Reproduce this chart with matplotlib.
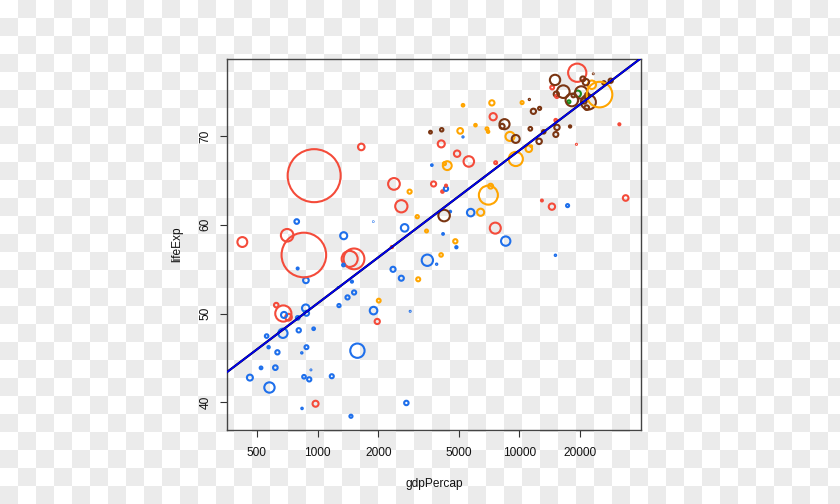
import numpy as np
import matplotlib
matplotlib.use("Agg")
import matplotlib.pyplot as plt

plt.rcParams['font.family'] = ['Liberation Sans', 'DejaVu Sans']

# Gapminder 1982
country = ["Afghanistan","Albania","Algeria","Angola","Argentina","Australia","Austria","Bahrain","Bangladesh","Belgium",
           "Benin","Bolivia","Bosnia and Herzegovina","Botswana","Brazil","Bulgaria","Burkina Faso","Burundi","Cambodia","Cameroon",
           "Canada","Central African Republic","Chad","Chile","China","Colombia","Comoros","Congo, Dem. Rep.","Congo, Rep.","Costa Rica",
           "Cote d'Ivoire","Croatia","Cuba","Czech Republic","Denmark","Djibouti","Dominican Republic","Ecuador","Egypt","El Salvador",
           "Equatorial Guinea","Eritrea","Ethiopia","Finland","France","Gabon","Gambia","Germany","Ghana","Greece",
           "Guatemala","Guinea","Guinea-Bissau","Haiti","Honduras","Hong Kong","Hungary","Iceland","India","Indonesia",
           "Iran","Iraq","Ireland","Israel","Italy","Jamaica","Japan","Jordan","Kenya","Korea, Dem. Rep.",
           "Korea, Rep.","Kuwait","Lebanon","Lesotho","Liberia","Libya","Madagascar","Malawi","Malaysia","Mali",
           "Mauritania","Mauritius","Mexico","Mongolia","Montenegro","Morocco","Mozambique","Myanmar","Namibia","Nepal",
           "Netherlands","New Zealand","Nicaragua","Niger","Nigeria","Norway","Oman","Pakistan","Panama","Paraguay",
           "Peru","Philippines","Poland","Portugal","Puerto Rico","Reunion","Romania","Rwanda","Sao Tome and Principe","Saudi Arabia",
           "Senegal","Serbia","Sierra Leone","Singapore","Slovak Republic","Slovenia","Somalia","South Africa","Spain","Sri Lanka",
           "Sudan","Swaziland","Sweden","Switzerland","Syria","Taiwan","Tanzania","Thailand","Togo","Trinidad and Tobago",
           "Tunisia","Turkey","Uganda","United Kingdom","United States","Uruguay","Venezuela","Vietnam","West Bank and Gaza","Yemen, Rep.",
           "Zambia","Zimbabwe"]

continent = ["Asia","Europe","Africa","Africa","Americas","Oceania","Europe","Asia","Asia","Europe",
             "Africa","Americas","Europe","Africa","Americas","Europe","Africa","Africa","Asia","Africa",
             "Americas","Africa","Africa","Americas","Asia","Americas","Africa","Africa","Africa","Americas",
             "Africa","Europe","Americas","Europe","Europe","Africa","Americas","Americas","Africa","Americas",
             "Africa","Africa","Africa","Europe","Europe","Africa","Africa","Europe","Africa","Europe",
             "Americas","Africa","Africa","Americas","Americas","Asia","Europe","Europe","Asia","Asia",
             "Asia","Asia","Europe","Asia","Europe","Americas","Asia","Asia","Africa","Asia",
             "Asia","Asia","Asia","Africa","Africa","Africa","Africa","Africa","Asia","Africa",
             "Africa","Africa","Americas","Asia","Europe","Africa","Africa","Asia","Africa","Asia",
             "Europe","Oceania","Americas","Africa","Africa","Europe","Asia","Asia","Americas","Americas",
             "Americas","Asia","Europe","Europe","Americas","Africa","Europe","Africa","Africa","Asia",
             "Africa","Europe","Africa","Asia","Europe","Europe","Africa","Africa","Europe","Asia",
             "Africa","Africa","Europe","Europe","Asia","Asia","Africa","Asia","Africa","Americas",
             "Africa","Europe","Africa","Europe","Americas","Americas","Americas","Asia","Asia","Asia",
             "Africa","Africa"]

gdpPercap = [978.011,3630.881,5745.160,2756.954,8997.897,19477.009,21597.084,19211.147,676.982,20979.846,
             1277.898,3156.510,4126.613,4551.142,7030.836,8224.192,807.199,559.603,624.475,2367.983,
             22898.792,956.753,797.908,5095.666,962.421,4397.576,1267.100,673.747,4879.508,5262.735,
             2602.710,13221.822,7316.918,15377.229,21688.040,2879.468,2861.092,7213.791,3503.730,4098.344,
             927.825,524.876,577.861,18533.158,20293.897,15113.362,835.810,22031.533,876.033,15268.421,
             4820.495,857.250,838.124,2011.160,3121.761,14560.531,12545.991,23269.607,855.723,1516.873,
             7608.335,14517.907,12618.321,15367.029,16537.483,6068.051,19384.106,4161.416,1348.226,4106.525,
             5622.942,31354.036,7640.520,797.264,572.200,17364.275,882.082,632.804,4920.356,618.015,
             1481.150,3688.038,9611.148,2338.008,11222.588,2702.620,462.212,424.000,4191.101,718.373,
             21399.460,17632.410,3470.338,909.722,1576.974,26298.635,12954.791,1443.429,7009.601,4258.504,
             6434.502,2603.274,8451.531,11753.843,10330.989,5261.613,9605.314,881.571,1890.218,33693.175,
             1518.480,15181.093,1465.011,15169.161,11348.546,17866.722,1176.807,8568.267,15046.719,1648.080,
             1895.544,3895.384,20667.381,28397.715,3761.838,7426.354,874.243,2393.220,1344.578,11460.600,
             4332.720,4241.356,682.266,18232.425,25009.559,6920.223,11152.410,707.235,4336.032,1977.557,
             1408.679,788.855]

lifeExp = [39.854,70.420,61.368,39.942,69.942,74.740,73.180,69.052,50.009,73.930,
           50.904,53.859,70.690,61.484,63.336,71.080,48.122,47.471,50.957,54.985,
           75.760,48.295,49.517,70.565,65.525,66.653,52.933,47.784,57.470,73.450,
           53.983,70.460,73.717,70.960,74.630,50.260,63.727,64.342,56.006,56.604,
           43.662,43.890,41.682,74.550,74.890,56.564,45.580,73.800,53.744,74.700,
           58.137,42.891,39.327,51.461,60.909,75.450,69.390,76.990,56.596,56.159,
           59.620,62.038,73.100,74.450,74.980,71.210,77.110,63.739,58.766,69.100,
           67.123,71.309,66.983,55.078,46.218,62.155,50.040,45.642,68.000,43.916,
           53.599,66.711,67.405,57.489,74.101,59.650,42.795,58.056,58.968,49.594,
           76.050,73.840,59.298,42.598,45.826,75.970,62.728,56.158,70.472,66.874,
           61.406,62.082,71.320,72.770,73.750,69.885,69.660,46.218,60.351,63.012,
           52.379,70.162,38.445,71.760,70.800,71.063,42.950,58.161,76.300,68.757,
           50.338,55.561,76.420,76.210,64.590,72.160,50.608,64.597,55.471,68.832,
           64.048,61.036,49.849,74.040,74.650,70.805,68.557,58.816,64.406,49.113,
           51.821,60.363]

pop = [12881816,2780097,20033753,7016384,29341374,15184200,7574613,377967,93074406,9856303,
       3641603,5642224,4172693,970347,128962939,8892098,6634596,4580410,7272485,9250831,
       25201900,2476971,4875118,11487112,1000281000,27764644,348643,30646495,1774735,2424367,
       9025951,4413368,9789224,10303704,5117810,305991,5968349,8365850,45681811,4474873,
       285483,2637297,38111756,4826933,54433565,753874,715523,78335266,11400338,9786480,
       6395630,4710497,825987,5198399,3669448,5264500,10705535,233997,708000000,153343000,
       43072751,14173318,3480000,3858421,56535636,2298309,118454974,2347031,17661452,17647518,
       39326000,1497494,3086876,1411807,1956875,3344074,9171477,6502825,14441916,7634008,
       1622136,992040,71640904,1756032,562548,20198730,12587223,34680442,1099010,15796314,
       14310401,3210650,2979423,6437188,73039376,4114787,1301048,91462088,2036305,3366439,
       18125129,53456774,36227381,9859650,3279001,517810,22356726,5507565,98593,11254672,
       6147783,9032824,3464522,2651869,4827803,1861252,5828892,31140029,37983310,15410151,
       20367053,649901,8325260,6468126,9410494,18501390,19844382,48827160,2644765,1116479,
       6734098,47328791,12939400,56339704,232187835,2953997,15620766,56142181,1425876,9657618,
       6100407,7636524]

continent_colors = {"Africa": "#1E6FEB", "Americas": "#FFA500", "Asia": "#F44B3A",
                    "Europe": "#7A3512", "Oceania": "#1A8C1A"}

x_ticks = [500, 1000, 2000, 5000, 10000, 20000]
y_ticks = [40, 50, 60, 70]

W, H, DPI = 840, 504, 100
fig = plt.figure(figsize=(W / DPI, H / DPI), dpi=DPI)

# checkerboard backdrop
cell = 18
nr, nc = int(np.ceil(H / cell)), int(np.ceil(W / cell))
board = (np.add.outer(np.arange(nr), np.arange(nc)) % 2).astype(float)
bg = fig.add_axes([0, 0, 1, 1])
bg.imshow(board, cmap=matplotlib.colors.ListedColormap(["#FFFFFF", "#EBEBEB"]),
          extent=(0, nc * cell, nr * cell, 0), interpolation="nearest", aspect="auto")
bg.set_xlim(0, W)
bg.set_ylim(H, 0)
bg.axis("off")

L, R, T, B = 227, 641, 59, 430
ax = fig.add_axes([L / W, (H - B) / H, (R - L) / W, (B - T) / H])
ax.set_facecolor("none")

gdp = np.array(gdpPercap, dtype=float)
life = np.array(lifeExp, dtype=float)
popa = np.array(pop, dtype=float)
cols = [continent_colors[c] for c in continent]

# circle radius ~ sqrt(pop); area in pt^2 proportional to pop
r_px = 26.5 * np.sqrt(popa / 1e9)
sizes = (2 * r_px * 72 / DPI) ** 2

ax.scatter(gdp, life, s=sizes, facecolors="none", edgecolors=cols, linewidths=1.5, zorder=3)

ax.set_xscale("log")
lx = np.log10(gdp)
padx = 0.04 * (lx.max() - lx.min())
ax.set_xlim(10 ** (lx.min() - padx), 10 ** (lx.max() + padx))
pady = 0.04 * (life.max() - life.min())
ax.set_ylim(life.min() - pady, life.max() + pady)

# linear fit of lifeExp on log(gdpPercap)
slope, icpt = np.polyfit(lx, life, 1)
xs = np.logspace(lx.min() - 1, lx.max() + 1, 50)
ax.plot(xs, icpt + slope * np.log10(xs), color="black", lw=1.6, zorder=4)
ax.plot(xs, icpt + slope * np.log10(xs), color="#0000EE", lw=1.3, zorder=5)

ax.set_xticks(x_ticks)
ax.set_xticklabels([str(v) for v in x_ticks])
ax.xaxis.set_minor_locator(matplotlib.ticker.NullLocator())
ax.set_yticks(y_ticks)
ax.set_yticklabels([str(v) for v in y_ticks], rotation=90, va="center")
ax.tick_params(axis="both", direction="out", length=5, width=0.8, colors="#333333",
               labelsize=8.6, labelcolor="#111111")
ax.tick_params(axis="x", pad=7)
ax.tick_params(axis="y", pad=6)
for sp in ax.spines.values():
    sp.set_color("#444444")
    sp.set_linewidth(1.0)

ax.set_xlabel("gdpPercap", fontsize=8.6, color="#111111", labelpad=14)
ax.set_ylabel("lifeExp", fontsize=8.6, color="#111111", labelpad=12)

fig.savefig("out.png", dpi=DPI)
